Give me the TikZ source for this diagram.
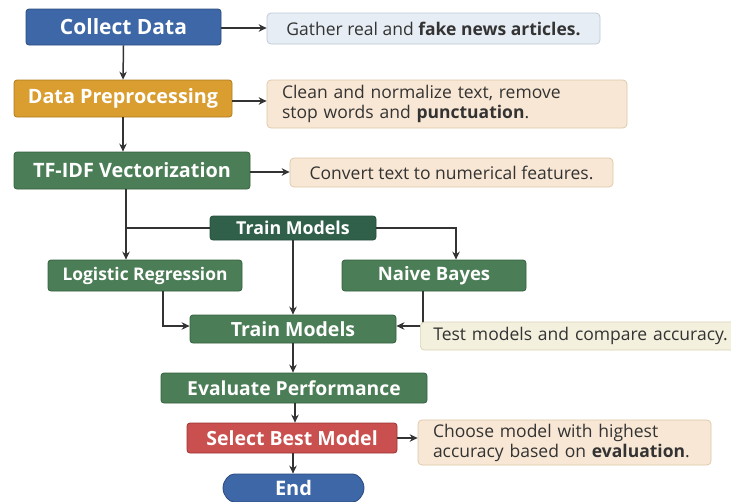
\documentclass[tikz,border=0pt]{standalone}
\usepackage{fontspec}
\setmainfont{Open Sans}
\usetikzlibrary{arrows.meta,shapes.misc}

\definecolor{blueF}{HTML}{3D67A7}
\definecolor{blueD}{HTML}{2A4B7E}
\definecolor{orangeF}{HTML}{D99D30}
\definecolor{orangeD}{HTML}{B07B1D}
\definecolor{greenF}{HTML}{4B7E56}
\definecolor{greenD}{HTML}{34603F}
\definecolor{darkgreenF}{HTML}{30604A}
\definecolor{redF}{HTML}{C9504F}
\definecolor{redD}{HTML}{9C3535}
\definecolor{noteBlue}{HTML}{E7EDF4}
\definecolor{noteBlueD}{HTML}{BCC8D7}
\definecolor{notePeach}{HTML}{F8E7D4}
\definecolor{notePeachD}{HTML}{DEC6A8}
\definecolor{noteCream}{HTML}{F3F0DD}
\definecolor{noteCreamD}{HTML}{D8D3B6}
\definecolor{ink}{HTML}{333333}

\tikzset{
  stepbox/.style={draw, line width=0.8pt, rounded corners=3pt, text=white,
    font=\bfseries, inner sep=0pt, align=center},
  notebox/.style={draw, line width=0.7pt, rounded corners=4pt, text=ink,
    inner sep=0pt, font=\fontsize{17.5}{20}\selectfont},
  arr/.style={draw=ink, line width=1.5pt, -{Stealth[length=8pt,width=7.5pt]}},
  conn/.style={draw=ink, line width=1.5pt},
}

\begin{document}
\begin{tikzpicture}[x=1pt,y=-1pt]
\useasboundingbox (0,0) rectangle (731,501);

% main steps
\node[stepbox, fill=blueF, draw=blueD, minimum width=195pt, minimum height=36pt,
  font=\bfseries\fontsize{21}{22}\selectfont] (collect) at (123.5,27) {Collect Data};
\node[stepbox, fill=orangeF, draw=orangeD, minimum width=218pt, minimum height=37pt,
  font=\bfseries\fontsize{19.8}{22}\selectfont] (prep) at (123,98.5) {Data Preprocessing};
\node[stepbox, fill=greenF, draw=greenD, minimum width=236pt, minimum height=37pt,
  font=\bfseries\fontsize{19.8}{22}\selectfont] (tfidf) at (132,170.5) {TF-IDF Vectorization};
\node[stepbox, fill=darkgreenF, draw=darkgreenF!80!black, minimum width=166pt, minimum height=24pt,
  font=\bfseries\fontsize{17.8}{20}\selectfont] (trainA) at (293,228) {Train Models};
\node[stepbox, fill=greenF, draw=greenD, minimum width=194pt, minimum height=31pt,
  font=\bfseries\fontsize{17.4}{20}\selectfont] (logreg) at (145,275.5) {Logistic Regression};
\node[stepbox, fill=greenF, draw=greenD, minimum width=184pt, minimum height=31pt,
  font=\bfseries\fontsize{18.5}{20}\selectfont] (naive) at (434,275.5) {Naive Bayes};
\node[stepbox, fill=greenF, draw=greenD, minimum width=206pt, minimum height=28pt,
  font=\bfseries\fontsize{19.5}{20}\selectfont] (trainB) at (293,329) {Train Models};
\node[stepbox, fill=greenF, draw=greenD, minimum width=266pt, minimum height=30pt,
  font=\bfseries\fontsize{19.3}{20}\selectfont] (evalp) at (294,388) {Evaluate Performance};
\node[stepbox, fill=redF, draw=redD, minimum width=210pt, minimum height=30pt,
  font=\bfseries\fontsize{19.5}{20}\selectfont] (select) at (292,438) {Select Best Model};
\node[stepbox, rounded rectangle, fill=blueF, draw=blueD, minimum width=141pt, minimum height=28pt,
  font=\bfseries\fontsize{20}{20}\selectfont] (end) at (293.5,488) {End};

% notes
\node[notebox, fill=noteBlue, draw=noteBlueD, minimum width=333pt, minimum height=31pt]
  (gather) at (433.5,28.5) {Gather real and \textbf{fake news articles.}};
\node[notebox, fill=notePeach, draw=notePeachD, minimum width=360pt, minimum height=48pt,
  text width=330pt, align=left] (clean) at (447,104)
  {Clean and normalize text, remove\\stop words and \textbf{punctuation}.};
\node[notebox, fill=notePeach, draw=notePeachD, minimum width=323pt, minimum height=29pt]
  (convert) at (451.5,172.5) {Convert text to numerical features.};
\node[notebox, fill=notePeach, draw=notePeachD, minimum width=293pt, minimum height=45pt,
  text width=263pt, align=left] (choose) at (564.5,442.5)
  {Choose model with highest\\accuracy based on \textbf{evaluation}.};

% connectors
\draw[arr] (collect.east |- 0,28) -- (gather.west |- 0,28);
\draw[arr] (collect.south) -- (prep.north);
\draw[arr] (prep.east |- 0,101) -- (clean.west |- 0,101);
\draw[arr] (prep.south) -- (prep.south |- tfidf.north);
\draw[arr] (tfidf.east |- 0,172) -- (convert.west |- 0,172);
\coordinate (split) at ([xshift=-6pt]tfidf.south);
\draw[arr] (split) -- (split |- logreg.north);
\draw[conn] (trainA.west) -- (trainA.west -| split);
\draw[arr] (trainA.east) -| ([xshift=22pt]naive.north);
\draw[arr] (trainA.south) -- (trainB.north);
\draw[arr] ([xshift=18pt]logreg.south) |- ([yshift=3pt]trainB.west);
\draw[arr] ([xshift=-11pt]naive.south) |- ([yshift=3pt]trainB.east);
\draw[arr] (trainB.south -| evalp.north) ++(-1pt,0) -- ([xshift=-1pt]evalp.north);
\draw[arr] ([xshift=1pt]evalp.south) -- ([xshift=1pt]evalp.south |- select.north);
\draw[arr] (select.east) -- (choose.west |- select.east);
\draw[arr] ([xshift=1pt]select.south) -- ([xshift=1pt]select.south |- end.north);

% note drawn over the connector corner
\node[notebox, fill=noteCream, draw=noteCreamD, minimum width=330pt, minimum height=28pt,
  text width=330pt, align=left, anchor=west] (test) at (420,336)
  {\hspace*{13pt}Test models and compare accuracy.};
\end{tikzpicture}
\end{document}
